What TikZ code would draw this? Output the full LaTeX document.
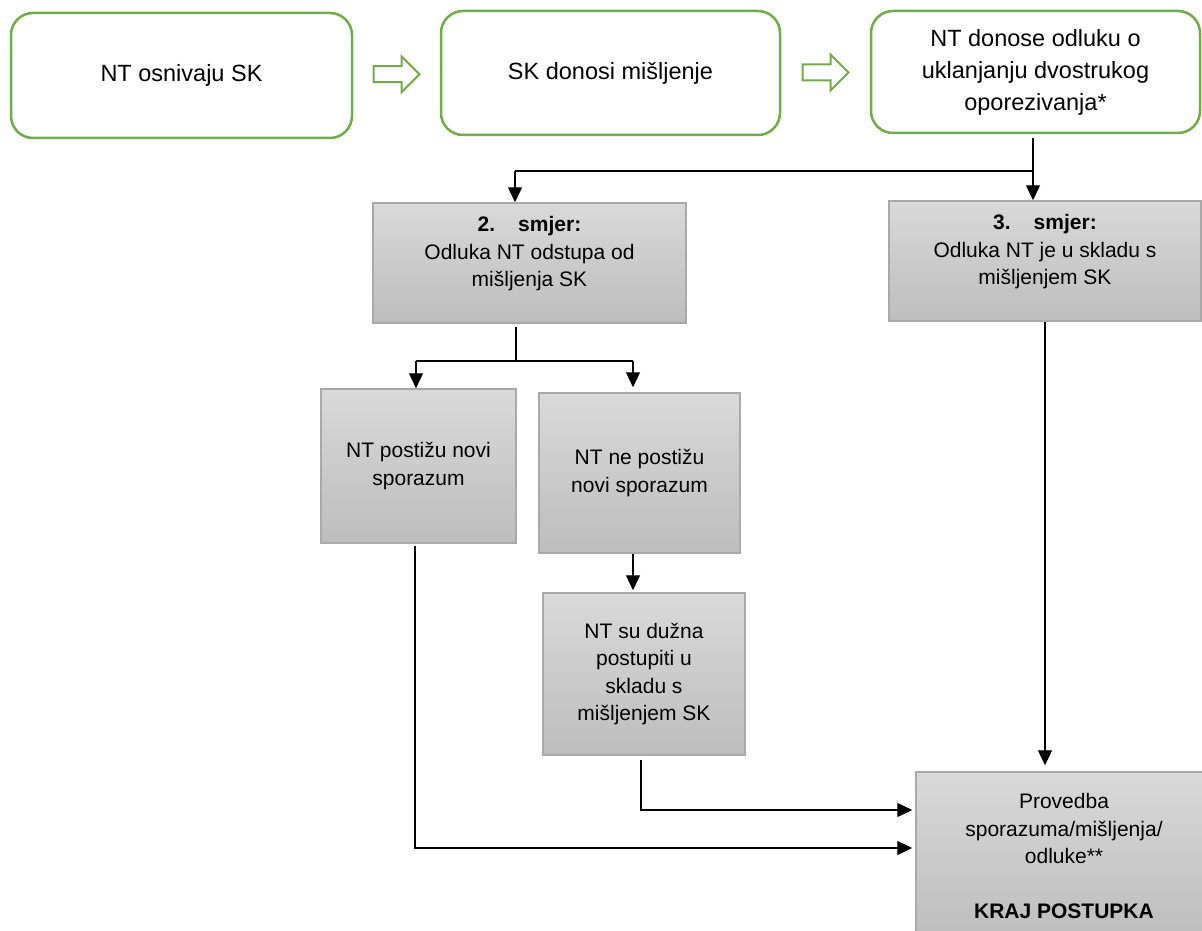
\documentclass[tikz,border=0pt]{standalone}
\usepackage{fontspec}
\setmainfont{Liberation Sans}
\usetikzlibrary{calc,arrows.meta}
\definecolor{okgreen}{HTML}{70AD47}
\definecolor{gtop}{HTML}{D9D9D9}
\definecolor{gbot}{HTML}{BDBDBD}
\definecolor{gborder}{HTML}{A9A9A9}
\tikzset{
  greenbox/.style={draw=okgreen, line width=2.5pt, rounded corners=22pt, fill=white,
    align=center, inner sep=0pt, font=\fontsize{23.5}{32}\selectfont},
  graybox/.style={draw=gborder, line width=1.5pt, top color=gtop, bottom color=gbot,
    align=center, inner sep=0pt, font=\fontsize{21}{27.5}\selectfont},
  boxtext/.style={align=center, inner sep=0pt, font=\fontsize{21}{27.5}\selectfont},
  hollow/.style={draw=okgreen, line width=2pt, fill=white, line join=miter},
  conn/.style={draw=black, line width=1.3pt},
  arr/.style={conn, -{Triangle[length=15pt,width=14pt]}},
}
\begin{document}
\begin{tikzpicture}[x=1pt,y=-1pt]
\clip (0,0) rectangle (1202,931);
\fill[white] (0,0) rectangle (1202,931);
% top row
\node[greenbox, minimum width=341pt, minimum height=125pt] (b1) at (181.5,75.5) {NT osnivaju SK};
\node[greenbox, minimum width=339pt, minimum height=124pt] (b2) at (610.5,73) {SK donosi mišljenje};
\node[greenbox, minimum width=329pt, minimum height=122pt] (b3) at (1035.5,72) {NT donose odluku o\\uklanjanju dvostrukog\\oporezivanja*};
% hollow arrows
\coordinate (m1) at ($(b1.east)!0.5!(b2.west)$);
\coordinate (m2) at ($(b2.east)!0.5!(b3.west)$);
\foreach \m in {m1,m2}{
  \draw[hollow] ($(\m)+(-23,-8)$) -- ($(\m)+(5,-8)$) -- ($(\m)+(5,-18)$) -- ($(\m)+(23,0)$)
    -- ($(\m)+(5,18)$) -- ($(\m)+(5,8)$) -- ($(\m)+(-23,8)$) -- cycle;
}
% direction boxes
\node[graybox, minimum width=313pt, minimum height=120pt] (s2) at (529.5,263) {};
\node[boxtext] (s2t) at (529.5,254) {\textbf{2.\hspace{23pt}smjer:}\\Odluka NT odstupa od\\mišljenja SK};
\node[graybox, minimum width=312pt, minimum height=120pt] (s3) at (1045,261) {};
\node[boxtext] (s3t) at (1045,252) {\textbf{3.\hspace{23pt}smjer:}\\Odluka NT je u skladu s\\mišljenjem SK};
% second level
\node[graybox, minimum width=195pt, minimum height=154pt] (a) at (418.5,466) {NT postižu novi\\sporazum};
\node[graybox, minimum width=201pt, minimum height=160pt] (b) at (639.5,473) {NT ne postižu\\novi sporazum};
\node[graybox, minimum width=202pt, minimum height=162pt] (c) at (644,674) {NT su dužna\\postupiti u\\skladu s\\mišljenjem SK};
\node[graybox, minimum width=296pt, minimum height=168pt] (p) at (1064,856) {Provedba\\sporazuma/mišljenja/\\odluke**\\[27.5pt]\textbf{KRAJ POSTUPKA}};
% connectors
\coordinate (j2) at (515,171);
\draw[conn] ($(b3.south)+(-2.5,4)$) |- (j2);
\draw[arr] (j2) -- (j2 |- s2.north);
\draw[arr] ($(b3.south)+(-2.5,38)$) -- ($(b3.south |- s3.north)+(-2.5,0)$);
\coordinate (j3) at (516,361);
\coordinate (j4) at (416,361);
\coordinate (j5) at (633,361);
\draw[conn] ($(j3 |- s2.south)+(0,3)$) -- (j3);
\draw[conn] (j4) -- (j5);
\draw[arr] (j4) -- (j4 |- a.north);
\draw[arr, shorten >=5pt] (j5) -- (j5 |- b.north);
\draw[arr, shorten >=2pt] (j5 |- b.south) -- (j5 |- c.north);
\coordinate (k1) at (641,810);
\draw[arr, shorten >=3pt] ($(k1 |- c.south)+(0,4)$) -- (k1) -- (k1 -| p.west);
\coordinate (k2) at (415,848);
\draw[arr, shorten >=3pt] ($(k2 |- a.south)+(0,2)$) -- (k2) -- (k2 -| p.west);
\draw[arr, shorten >=6pt] (s3.south) -- (s3.south |- p.north);
\end{tikzpicture}
\end{document}
